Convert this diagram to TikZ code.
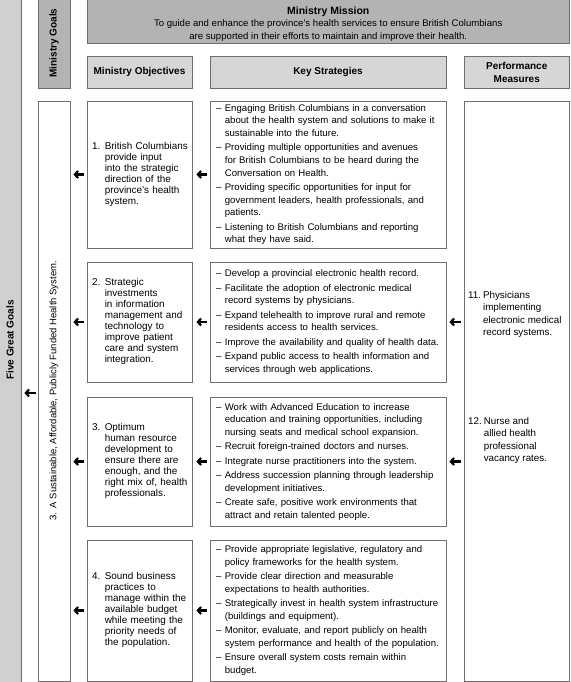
\documentclass[tikz,border=0pt]{standalone}
\usepackage{fontspec}
\setmainfont{Liberation Sans}
\usetikzlibrary{arrows.meta}

\definecolor{edgegray}{HTML}{6E6E6E}
\definecolor{bargray}{HTML}{D0D0D0}
\definecolor{goalgray}{HTML}{B3B3B3}
\definecolor{headgray}{HTML}{D6D6D6}

\tikzset{
  box/.style={draw=edgegray, line width=0.8pt, inner sep=0pt},
  headbox/.style={box, fill=headgray, minimum height=32pt, align=center,
    font=\fontsize{10}{13}\selectfont\bfseries},
  objbox/.style={box, text width=95pt, inner xsep=5pt, align=left,
    font=\fontsize{9.9}{11}\selectfont},
  stratbox/.style={box, text width=224pt, inner xsep=6pt, align=left,
    font=\fontsize{9.6}{12.7}\selectfont},
  pmtext/.style={anchor=north west, inner sep=0pt, align=left,
    font=\fontsize{9.8}{12.4}\selectfont},
  arr/.style={line width=2.2pt, -{Straight Barb[length=3.2pt,width=7pt]}}
}

\begin{document}
\begin{tikzpicture}[x=1pt, y=-1pt]
  \useasboundingbox (0,0) rectangle (570,682);

  % goal bars on the left
  \node[box, fill=bargray, minimum width=22pt, minimum height=684pt] (fgg) at (10,340) {};
  \node[rotate=90, font=\fontsize{10}{12}\selectfont\bfseries] (fggtext) at (fgg) {Five Great Goals};
  \node[box, fill=goalgray, minimum width=32pt, minimum height=90pt] (mgoals) at (54,43) {};
  \node[rotate=90, font=\fontsize{10}{12}\selectfont\bfseries] (mgoalstext) at (mgoals) {Ministry Goals};
  \node[box, minimum width=32pt, minimum height=580pt] (goal3) at (54,391) {};
  \node[rotate=90, font=\fontsize{9.5}{12}\selectfont] (goal3text) at (goal3)
    {3.\hspace{5pt}A Sustainable, Affordable, Publicly Funded Health System.};

  % mission and column heads
  \node[box, fill=goalgray, minimum width=482.5pt, minimum height=45pt] (mission) at (328.25,20.5) {};
  \node[align=center, inner sep=0pt, font=\fontsize{9.6}{12.2}\selectfont] (missiontext) at (328.25,24)
    {{\fontsize{10.5}{12.2}\selectfont\bfseries Ministry Mission}\\
     To guide and enhance the province’s health services to ensure British Columbians\\
     are supported in their efforts to maintain and improve their health.};
  \node[headbox, minimum width=105pt] (objhead) at (139.5,72) {Ministry Objectives};
  \node[headbox, minimum width=236pt] (kshead) at (328,72) {Key Strategies};
  \node[headbox, minimum width=105.5pt] (pmhead) at (516.75,72) {Performance\\Measures};

  % objectives
  \node[objbox, minimum height=147pt] (obj1) at (139.5,174.5)
    {\begin{tabular}{@{}l@{\hspace{4.5pt}}l@{}}
     1.&British Columbians\\&provide input\\&into the strategic\\&direction of the\\
     &province’s health\\&system.\end{tabular}};
  \node[objbox, minimum height=120pt] (obj2) at (139.5,322)
    {\begin{tabular}{@{}l@{\hspace{4.5pt}}l@{}}
     2.&Strategic\\&investments\\&in information\\&management and\\&technology to\\
     &improve patient\\&care and system\\&integration.\end{tabular}};
  \node[objbox, minimum height=129pt] (obj3) at (139.5,461.5)
    {\begin{tabular}{@{}l@{\hspace{4.5pt}}l@{}}
     3.&Optimum\\&human resource\\&development to\\&ensure there are\\&enough, and the\\
     &right mix of, health\\&professionals.\end{tabular}};
  \node[objbox, minimum height=141pt] (obj4) at (139.5,610.5)
    {\begin{tabular}{@{}l@{\hspace{4.5pt}}l@{}}
     4.&Sound business\\&practices to\\&manage within the\\&available budget\\
     &while meeting the\\&priority needs of\\&the population.\end{tabular}};

  % key strategies
  \node[stratbox, minimum height=147pt] (ks1) at (328,174.5)
    {\begin{tabular}{@{}l@{\hspace{3.5pt}}l@{}}
     –&Engaging British Columbians in a conversation\\
      &about the health system and solutions to make it\\
      &sustainable into the future.\\[1.6pt]
     –&Providing multiple opportunities and avenues\\
      &for British Columbians to be heard during the\\
      &Conversation on Health.\\[1.6pt]
     –&Providing specific opportunities for input for\\
      &government leaders, health professionals, and\\
      &patients.\\[1.6pt]
     –&Listening to British Columbians and reporting\\
      &what they have said.\end{tabular}};
  \node[stratbox, minimum height=120pt] (ks2) at (328,322)
    {\begin{tabular}{@{}l@{\hspace{3.5pt}}l@{}}
     –&Develop a provincial electronic health record.\\[1.6pt]
     –&Facilitate the adoption of electronic medical\\
      &record systems by physicians.\\[1.6pt]
     –&Expand telehealth to improve rural and remote\\
      &residents access to health services.\\[1.6pt]
     –&Improve the availability and quality of health data.\\[1.6pt]
     –&Expand public access to health information and\\
      &services through web applications.\end{tabular}};
  \node[stratbox, minimum height=129pt] (ks3) at (328,461.5)
    {\begin{tabular}{@{}l@{\hspace{3.5pt}}l@{}}
     –&Work with Advanced Education to increase\\
      &education and training opportunities, including\\
      &nursing seats and medical school expansion.\\[1.6pt]
     –&Recruit foreign-trained doctors and nurses.\\[1.6pt]
     –&Integrate nurse practitioners into the system.\\[1.6pt]
     –&Address succession planning through leadership\\
      &development initiatives.\\[1.6pt]
     –&Create safe, positive work environments that\\
      &attract and retain talented people.\end{tabular}};
  \node[stratbox, minimum height=141pt] (ks4) at (328,610.5)
    {\begin{tabular}{@{}l@{\hspace{3.5pt}}l@{}}
     –&Provide appropriate legislative, regulatory and\\
      &policy frameworks for the health system.\\[1.6pt]
     –&Provide clear direction and measurable\\
      &expectations to health authorities.\\[1.6pt]
     –&Strategically invest in health system infrastructure\\
      &(buildings and equipment).\\[1.6pt]
     –&Monitor, evaluate, and report publicly on health\\
      &system performance and health of the population.\\[1.6pt]
     –&Ensure overall system costs remain within\\
      &budget.\end{tabular}};

  % performance measures
  \node[box, minimum width=105.5pt, minimum height=580pt] (pm) at (516.75,391) {};
  \node[pmtext] (pm11) at (468,289.5)
    {\begin{tabular}{@{}l@{\hspace{2pt}}l@{}}
     11.&Physicians\\&implementing\\&electronic medical\\&record systems.\end{tabular}};
  \node[pmtext] (pm12) at (468,415.5)
    {\begin{tabular}{@{}l@{\hspace{2pt}}l@{}}
     12.&Nurse and\\&allied health\\&professional\\&vacancy rates.\end{tabular}};

  % arrows
  \draw[arr] ([xshift=-3pt]pm.west |- ks2) -- ([xshift=3pt]ks2.east);
  \draw[arr] ([xshift=-3pt]pm.west |- ks3) -- ([xshift=3pt]ks3.east);
  \draw[arr] ([xshift=-3pt]ks1.west) -- ([xshift=4pt]obj1.east);
  \draw[arr] ([xshift=-3pt]ks2.west) -- ([xshift=4pt]obj2.east);
  \draw[arr] ([xshift=-3pt]ks3.west) -- ([xshift=4pt]obj3.east);
  \draw[arr] ([xshift=-3pt]ks4.west) -- ([xshift=4pt]obj4.east);
  \draw[arr] ([xshift=-3pt]obj1.west) -- ([xshift=3pt]goal3.east |- obj1);
  \draw[arr] ([xshift=-3pt]obj2.west) -- ([xshift=3pt]goal3.east |- obj2);
  \draw[arr] ([xshift=-3pt]obj3.west) -- ([xshift=3pt]goal3.east |- obj3);
  \draw[arr] ([xshift=-3pt]obj4.west) -- ([xshift=3pt]goal3.east |- obj4);
  \draw[arr] ([xshift=-2pt, yshift=-2pt]goal3.west) -- ([xshift=3pt, yshift=-2pt]goal3.west -| fgg.east);
\end{tikzpicture}
\end{document}
